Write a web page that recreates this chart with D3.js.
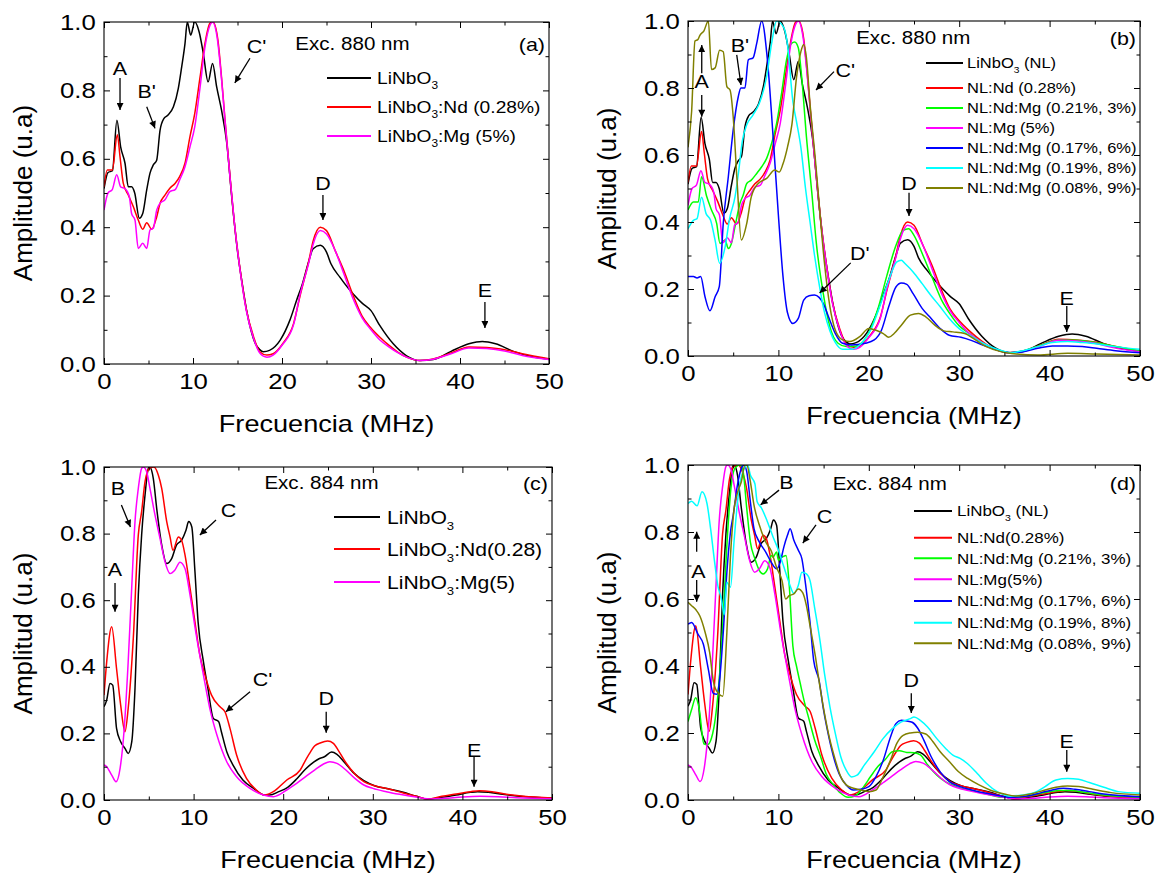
<!DOCTYPE html>
<html><head><meta charset="utf-8">
<script src="https://cdnjs.cloudflare.com/ajax/libs/d3/7.8.5/d3.min.js"></script>
<style>
body{margin:0;background:#fff}
svg{display:block}
text{font-family:"Liberation Sans",Arial,Helvetica,sans-serif;fill:#000}
</style>
</head><body><svg id="chart" width="1158" height="879"></svg>
<script>
// ---------------- tick labels ----------------
const xTicks = [0, 10, 20, 30, 40, 50];
const xMinor = [5, 15, 25, 35, 45];
const yTicks = [0, 0.2, 0.4, 0.6, 0.8, 1.0];
const yMinor = [0.1, 0.3, 0.5, 0.7, 0.9];

// ---------------- series: [frequency MHz, amplitude] ----------------
// Exc. 880 nm
const a_LN = [[0,0.513],[0.45,0.56],[0.95,0.565],[1.45,0.713],[1.87,0.635],[2.36,0.587],[2.73,0.518],[3.1,0.518],[3.45,0.5],[3.97,0.426],[4.35,0.44],[4.8,0.509],[5.17,0.558],[5.54,0.582],[5.92,0.596],[6.3,0.684],[6.74,0.718],[7.2,0.728],[7.8,0.752],[8.35,0.806],[8.73,0.869],[9.1,0.937],[9.36,1.0],[9.74,0.962],[10.2,1.0],[10.7,0.97],[11.16,0.908],[11.7,0.825],[12.2,0.879],[12.66,0.81],[13.2,0.743],[13.8,0.645],[14.35,0.489],[15.0,0.33],[15.5,0.24],[16.0,0.16],[16.5,0.1],[17.0,0.06],[17.5,0.042],[17.9,0.036],[18.6,0.04],[19.8,0.07],[20.9,0.129],[21.65,0.187],[22.3,0.235],[23.0,0.3],[23.5,0.337],[24.3,0.347],[25.0,0.327],[25.5,0.293],[26.5,0.254],[27.5,0.22],[28.0,0.205],[29.0,0.178],[30.0,0.156],[31.0,0.112],[32.5,0.059],[34.0,0.024],[35.5,0.01],[37.0,0.013],[39.0,0.037],[41.0,0.059],[42.5,0.066],[44.0,0.059],[46.0,0.037],[48.0,0.022],[50.0,0.014]];
const a_Nd = [[0,0.518],[0.37,0.567],[0.93,0.567],[1.5,0.67],[1.8,0.606],[2.17,0.528],[2.73,0.494],[3.3,0.46],[3.85,0.421],[4.35,0.394],[4.8,0.413],[5.36,0.394],[5.92,0.43],[6.3,0.47],[6.85,0.494],[7.4,0.514],[7.98,0.528],[8.5,0.548],[9.1,0.587],[9.66,0.665],[10.2,0.733],[10.8,0.84],[11.35,0.938],[11.9,0.996],[12.25,1.0],[12.8,0.947],[13.2,0.84],[13.6,0.713],[14.16,0.548],[14.7,0.401],[15.3,0.275],[16.0,0.158],[16.8,0.08],[17.5,0.036],[18.3,0.026],[19.0,0.03],[20.1,0.06],[21.3,0.118],[22.0,0.196],[23.0,0.3],[23.5,0.36],[24.3,0.4],[25.0,0.39],[26.0,0.33],[27.0,0.27],[28.0,0.2],[29.0,0.14],[30.0,0.105],[31.0,0.078],[32.0,0.055],[33.0,0.035],[34.0,0.02],[35.5,0.01],[37.0,0.015],[39.0,0.032],[41.0,0.05],[43.0,0.048],[45.0,0.042],[47.0,0.03],[50.0,0.015]];
const a_Mg = [[0,0.45],[0.45,0.5],[0.93,0.51],[1.43,0.553],[1.87,0.518],[2.36,0.513],[2.85,0.489],[3.1,0.44],[3.48,0.421],[3.85,0.338],[4.35,0.353],[4.8,0.338],[5.17,0.392],[5.54,0.397],[5.92,0.45],[6.3,0.47],[6.85,0.48],[7.4,0.504],[8.0,0.51],[8.5,0.538],[9.1,0.577],[9.66,0.635],[10.2,0.694],[10.8,0.81],[11.35,0.928],[11.9,0.99],[12.2,1.0],[12.7,0.957],[13.2,0.835],[13.6,0.71],[14.16,0.545],[14.7,0.4],[15.3,0.272],[16.0,0.155],[16.8,0.075],[17.5,0.032],[18.3,0.02],[19.0,0.026],[20.0,0.055],[21.3,0.115],[22.0,0.2],[23.0,0.295],[23.5,0.35],[24.3,0.39],[25.0,0.38],[26.0,0.33],[27.0,0.26],[28.0,0.19],[29.0,0.135],[30.0,0.1],[31.0,0.07],[32.0,0.05],[33.0,0.033],[34.0,0.02],[35.5,0.01],[37.0,0.014],[39.0,0.03],[41.0,0.047],[43.0,0.045],[45.0,0.038],[47.0,0.025],[50.0,0.013]];
const b_NdMg3 = [[0,0.436],[0.59,0.46],[1.14,0.46],[1.5,0.535],[2.07,0.476],[2.6,0.436],[3.17,0.396],[3.54,0.336],[4.1,0.346],[4.46,0.321],[4.8,0.336],[5.2,0.386],[5.75,0.456],[6.1,0.48],[6.5,0.515],[7.0,0.525],[7.6,0.545],[8.15,0.565],[8.7,0.59],[9.25,0.635],[9.8,0.694],[10.35,0.784],[10.9,0.884],[11.45,0.933],[11.8,0.937],[12.2,0.92],[12.57,0.834],[13.1,0.655],[13.7,0.486],[14.2,0.336],[14.96,0.187],[15.7,0.087],[16.6,0.038],[17.5,0.028],[18.1,0.028],[19.0,0.035],[20.0,0.07],[21.0,0.14],[22.0,0.24],[23.0,0.33],[23.8,0.375],[24.4,0.38],[25.0,0.36],[26.0,0.3],[27.0,0.235],[28.0,0.17],[29.0,0.125],[30.0,0.09],[31.0,0.07],[32.0,0.05],[33.0,0.033],[34.0,0.02],[35.5,0.01],[37.0,0.015],[39.0,0.032],[41.0,0.048],[43.0,0.047],[45.0,0.04],[47.0,0.03],[50.0,0.015]];
const b_NdMg6 = [[0,0.237],[0.6,0.237],[1.0,0.233],[1.4,0.237],[1.88,0.177],[2.43,0.135],[3.0,0.177],[3.46,0.207],[3.9,0.396],[4.46,0.535],[5.0,0.675],[5.56,0.774],[5.85,0.8],[6.3,0.8],[6.67,0.884],[7.2,0.89],[7.6,0.933],[8.15,1.0],[8.8,0.88],[9.4,0.66],[10.0,0.42],[10.5,0.24],[11.0,0.13],[11.6,0.097],[12.2,0.112],[12.8,0.167],[13.4,0.18],[14.0,0.182],[14.5,0.175],[15.0,0.155],[15.5,0.12],[16.3,0.067],[17.1,0.038],[18.1,0.033],[19.6,0.038],[20.6,0.048],[21.4,0.077],[22.2,0.147],[23.0,0.206],[23.6,0.218],[24.2,0.214],[24.9,0.186],[25.9,0.142],[26.9,0.112],[27.9,0.082],[28.9,0.062],[30.2,0.056],[31.4,0.046],[32.6,0.033],[34.2,0.018],[35.7,0.01],[37.1,0.013],[38.7,0.023],[40.3,0.03],[42.0,0.03],[43.6,0.028],[45.2,0.023],[47.3,0.016],[50.0,0.01]];
const b_NdMg8 = [[0,0.38],[0.6,0.405],[1.0,0.41],[1.5,0.474],[2.0,0.425],[2.5,0.405],[3.0,0.345],[3.5,0.277],[4.1,0.325],[4.6,0.41],[5.2,0.475],[5.6,0.55],[6.0,0.64],[6.5,0.69],[7.2,0.72],[7.9,0.755],[8.7,0.834],[9.25,0.933],[9.8,1.0],[10.6,0.98],[11.0,0.93],[11.6,0.76],[12.0,0.7],[12.5,0.62],[13.0,0.5],[13.5,0.4],[14.0,0.3],[14.6,0.2],[15.1,0.13],[15.7,0.075],[16.3,0.04],[17.1,0.02],[18.1,0.02],[19.2,0.038],[20.2,0.077],[21.2,0.147],[22.2,0.226],[23.1,0.281],[23.6,0.286],[24.0,0.276],[24.9,0.251],[25.9,0.216],[26.9,0.18],[27.9,0.147],[28.9,0.112],[30.2,0.077],[31.4,0.058],[32.6,0.038],[34.2,0.02],[35.7,0.01],[37.1,0.016],[38.7,0.028],[40.3,0.04],[42.0,0.043],[43.6,0.04],[45.2,0.036],[47.3,0.028],[50.0,0.02]];
const b_NdMg9 = [[0,0.623],[0.4,0.73],[0.77,0.94],[1.1,0.945],[1.33,0.958],[1.75,0.97],[2.25,1.0],[2.6,0.855],[3.0,0.86],[3.5,0.913],[3.9,0.908],[4.3,0.804],[4.65,0.794],[5.0,0.714],[5.4,0.535],[5.9,0.346],[6.5,0.396],[7.0,0.475],[7.8,0.516],[8.7,0.53],[9.6,0.555],[10.1,0.549],[10.5,0.573],[11.0,0.623],[11.5,0.692],[12.0,0.831],[12.5,0.91],[12.8,0.93],[13.1,0.89],[13.5,0.752],[14.1,0.583],[14.6,0.425],[15.1,0.276],[15.7,0.147],[16.3,0.077],[17.1,0.048],[17.9,0.043],[19.0,0.058],[20.0,0.082],[20.8,0.077],[21.6,0.067],[22.2,0.056],[22.8,0.067],[23.6,0.092],[24.6,0.122],[25.5,0.127],[26.3,0.117],[27.3,0.092],[28.3,0.075],[29.3,0.072],[30.6,0.067],[31.8,0.048],[33.0,0.028],[34.6,0.013],[36.3,0.006],[38.7,0.003],[42.0,0.008],[45.2,0.006],[50.0,0.003]];

// Exc. 884 nm
const c_LN = [[0,0.28],[0.3,0.3],[0.67,0.35],[0.97,0.345],[1.4,0.215],[1.86,0.175],[2.34,0.155],[2.7,0.14],[3.1,0.175],[3.46,0.335],[3.83,0.616],[4.2,0.796],[4.58,0.916],[4.95,0.996],[5.1,1.0],[5.5,0.966],[5.88,0.876],[6.44,0.766],[7.0,0.71],[7.55,0.725],[8.1,0.766],[8.66,0.78],[9.15,0.81],[9.45,0.836],[9.8,0.82],[10.15,0.686],[10.5,0.535],[11.1,0.415],[11.6,0.335],[12.2,0.245],[12.8,0.235],[13.1,0.205],[13.7,0.145],[14.4,0.105],[15.5,0.06],[16.7,0.035],[17.9,0.015],[18.5,0.015],[19.5,0.025],[20.5,0.038],[21.5,0.063],[22.5,0.093],[23.4,0.114],[24.0,0.124],[24.6,0.13],[25.4,0.144],[26.0,0.137],[26.8,0.114],[27.8,0.083],[29.0,0.058],[30.2,0.043],[31.8,0.033],[33.4,0.023],[34.9,0.011],[36.1,0.003],[37.7,0.008],[39.3,0.015],[40.9,0.023],[41.7,0.025],[42.9,0.023],[44.5,0.017],[46.4,0.011],[50.0,0.005]];
const c_Nd = [[0,0.315],[0.3,0.415],[0.86,0.52],[1.4,0.395],[1.86,0.285],[2.34,0.205],[2.7,0.275],[3.27,0.486],[3.83,0.796],[4.2,0.866],[4.58,0.956],[5.1,0.997],[5.58,1.0],[6.06,0.976],[6.44,0.936],[7.0,0.836],[7.37,0.79],[7.7,0.75],[8.3,0.79],[8.66,0.78],[9.04,0.736],[9.6,0.637],[10.15,0.535],[10.7,0.435],[11.27,0.375],[12.0,0.315],[12.95,0.28],[13.5,0.265],[14.06,0.215],[14.8,0.135],[15.9,0.065],[17.0,0.03],[17.9,0.015],[18.9,0.025],[20.4,0.06],[21.9,0.09],[22.5,0.12],[23.1,0.147],[23.5,0.162],[24.2,0.172],[24.96,0.177],[25.6,0.17],[26.2,0.147],[27.0,0.112],[28.0,0.078],[29.0,0.055],[30.2,0.043],[31.8,0.033],[33.4,0.021],[34.9,0.011],[36.1,0.003],[37.7,0.011],[39.3,0.018],[40.9,0.025],[41.9,0.028],[43.3,0.025],[44.9,0.017],[46.8,0.011],[50.0,0.006]];
const c_Mg = [[0,0.105],[0.3,0.1],[0.86,0.075],[1.34,0.055],[1.8,0.096],[2.23,0.205],[2.7,0.415],[3.09,0.636],[3.46,0.836],[3.83,0.936],[4.2,0.996],[4.39,1.0],[4.76,0.986],[5.13,0.936],[5.69,0.856],[6.25,0.786],[6.8,0.716],[7.37,0.68],[7.9,0.69],[8.48,0.714],[9.04,0.695],[9.6,0.616],[10.3,0.495],[11.1,0.375],[11.8,0.276],[12.6,0.195],[13.7,0.115],[14.8,0.07],[16.3,0.035],[17.8,0.015],[18.9,0.01],[20.4,0.03],[21.5,0.05],[22.5,0.07],[23.5,0.09],[24.5,0.108],[25.2,0.115],[26.0,0.11],[27.0,0.09],[28.0,0.065],[29.0,0.045],[30.0,0.035],[31.5,0.025],[33.0,0.017],[35.0,0.008],[36.5,0.003],[38.0,0.005],[40.0,0.009],[42.0,0.011],[44.0,0.01],[46.0,0.007],[50.0,0.004]];
const d_NdMg3 = [[0,0.234],[0.4,0.27],[0.85,0.305],[1.25,0.27],[1.75,0.168],[2.15,0.165],[2.6,0.185],[3.1,0.26],[3.5,0.377],[3.9,0.55],[4.3,0.76],[4.75,0.93],[5.1,0.985],[5.5,0.998],[5.8,1.0],[6.1,0.98],[6.5,0.87],[6.9,0.77],[7.4,0.72],[7.9,0.685],[8.3,0.675],[8.8,0.69],[9.2,0.73],[9.4,0.725],[9.8,0.74],[10.0,0.716],[10.4,0.725],[10.85,0.73],[11.2,0.64],[11.6,0.46],[12.0,0.4],[12.4,0.35],[12.9,0.29],[13.4,0.24],[14.0,0.18],[14.7,0.127],[15.3,0.077],[16.1,0.045],[16.9,0.02],[17.7,0.008],[18.5,0.012],[19.3,0.035],[20.2,0.07],[21.0,0.1],[21.8,0.12],[22.6,0.144],[23.4,0.147],[24.2,0.142],[25.0,0.141],[25.7,0.135],[26.5,0.105],[27.5,0.075],[28.5,0.054],[29.7,0.04],[31.4,0.028],[33.0,0.018],[35.0,0.008],[37.0,0.01],[39.1,0.02],[41.1,0.028],[42.3,0.028],[44.0,0.022],[46.0,0.015],[50.0,0.008]];
const d_NdMg6 = [[0,0.525],[0.4,0.53],[1.1,0.495],[1.7,0.465],[2.25,0.39],[2.8,0.318],[3.2,0.316],[3.5,0.36],[3.9,0.5],[4.3,0.68],[4.7,0.8],[5.0,0.85],[5.5,0.945],[5.9,0.99],[6.2,1.0],[6.5,0.98],[6.9,0.89],[7.3,0.81],[7.9,0.77],[8.6,0.74],[9.2,0.71],[9.8,0.69],[10.2,0.71],[10.6,0.755],[11.0,0.79],[11.3,0.81],[11.7,0.776],[12.2,0.746],[12.6,0.72],[13.0,0.645],[13.5,0.53],[13.9,0.417],[14.5,0.357],[15.0,0.268],[15.5,0.198],[16.1,0.129],[16.7,0.079],[17.5,0.045],[18.3,0.03],[19.1,0.032],[20.0,0.04],[20.8,0.07],[21.6,0.119],[22.4,0.188],[23.0,0.228],[23.6,0.238],[24.2,0.236],[24.8,0.232],[25.4,0.215],[26.1,0.178],[26.9,0.129],[27.9,0.084],[28.9,0.055],[30.1,0.04],[31.4,0.03],[33.0,0.02],[34.6,0.012],[35.8,0.008],[37.5,0.012],[39.1,0.022],[40.3,0.03],[41.5,0.035],[42.8,0.032],[44.4,0.025],[46.0,0.018],[50.0,0.01]];
const d_NdMg8 = [[0,0.885],[0.4,0.892],[1.0,0.878],[1.55,0.92],[2.1,0.885],[2.5,0.81],[2.9,0.72],[3.3,0.64],[3.7,0.6],[4.0,0.553],[4.3,0.65],[4.7,0.635],[5.1,0.774],[5.6,0.92],[6.1,0.982],[6.6,1.0],[6.9,0.97],[7.4,0.944],[7.65,0.89],[8.1,0.873],[8.75,0.833],[9.4,0.786],[10.0,0.746],[10.6,0.696],[11.2,0.647],[11.7,0.617],[12.2,0.64],[12.6,0.68],[13.1,0.675],[13.5,0.655],[14.0,0.575],[14.6,0.476],[15.1,0.377],[15.7,0.278],[16.3,0.198],[16.9,0.129],[17.5,0.089],[18.1,0.069],[18.7,0.074],[19.5,0.104],[20.6,0.144],[21.6,0.184],[22.6,0.213],[23.6,0.233],[24.6,0.243],[25.0,0.248],[25.7,0.238],[26.5,0.218],[27.5,0.184],[28.5,0.154],[29.3,0.134],[30.1,0.124],[30.9,0.109],[32.0,0.079],[33.0,0.05],[34.2,0.025],[35.6,0.012],[37.0,0.015],[38.3,0.022],[39.5,0.04],[40.7,0.06],[42.0,0.064],[43.2,0.062],[44.4,0.052],[46.0,0.038],[47.6,0.025],[50.0,0.02]];
const d_NdMg9 = [[0,0.59],[0.4,0.58],[0.9,0.567],[1.3,0.55],[1.9,0.5],[2.4,0.44],[2.8,0.355],[3.3,0.32],[3.85,0.31],[4.3,0.5],[4.7,0.73],[5.1,0.87],[5.5,0.92],[5.9,0.95],[6.3,1.0],[6.5,1.0],[6.9,0.95],[7.3,0.88],[7.9,0.82],[8.6,0.77],[9.2,0.744],[9.8,0.694],[10.4,0.655],[10.8,0.6],[11.2,0.61],[11.7,0.615],[12.2,0.63],[12.7,0.618],[13.1,0.58],[13.5,0.52],[14.1,0.427],[14.6,0.337],[15.1,0.258],[15.7,0.179],[16.3,0.119],[16.9,0.069],[17.5,0.045],[18.3,0.035],[19.1,0.03],[20.0,0.025],[20.8,0.03],[21.6,0.07],[22.4,0.119],[23.1,0.169],[23.8,0.193],[24.6,0.2],[25.4,0.202],[26.3,0.197],[27.1,0.174],[27.9,0.144],[28.9,0.115],[29.9,0.085],[30.9,0.065],[32.2,0.045],[33.4,0.03],[35.0,0.018],[36.2,0.012],[37.9,0.018],[39.5,0.03],[40.7,0.038],[42.0,0.042],[43.2,0.04],[44.8,0.032],[46.8,0.022],[50.0,0.015]];

// ---------------- legend names ----------------
const namesA = ["LiNbO3", "LiNbO3:Nd (0.28%)", "LiNbO3:Mg (5%)"];
const namesB = ["LiNbO3 (NL)", "NL:Nd (0.28%)", "NL:Nd:Mg (0.21%, 3%)", "NL:Mg (5%)", "NL:Nd:Mg (0.17%, 6%)", "NL:Nd:Mg (0.19%, 8%)", "NL:Nd:Mg (0.08%, 9%)"];
const namesC = ["LiNbO3", "LiNbO3:Nd(0.28)", "LiNbO3:Mg(5)"];
const namesD = ["LiNbO3 (NL)", "NL:Nd(0.28%)", "NL:Nd:Mg (0.21%, 3%)", "NL:Mg(5%)", "NL:Nd:Mg (0.17%, 6%)", "NL:Nd:Mg (0.19%, 8%)", "NL:Nd:Mg (0.08%, 9%)"];
const colors3 = ["#000000", "#ff0000", "#ff00ff"];
const colors7 = ["#000000", "#ff0000", "#00ff00", "#ff00ff", "#0000ff", "#00ffff", "#808000"];

// annotations: [label, x, y] and arrows [x1,y1,x2,y2] in data units
const notesA = [["A",1.8,0.865],["B'",4.8,0.796],["C'",17.15,0.928],["D",24.6,0.529],["E",42.8,0.216]];
const arrowsA = [[1.8,0.836,1.8,0.743],[4.8,0.752,5.73,0.689],[16.4,0.894,14.7,0.822],[24.6,0.494,24.6,0.421],[42.8,0.181,42.8,0.105]];
const notesB = [["A",1.52,0.819],["B'",5.75,0.928],["C'",17.4,0.854],["D'",19.0,0.307],["D",24.45,0.516],["E",41.9,0.173]];
const arrowsB = [[1.52,0.844,1.52,0.928],[1.52,0.779,1.52,0.714],[5.39,0.899,5.86,0.809],[16.15,0.849,14.16,0.794],[18.0,0.278,14.56,0.188],[24.45,0.487,24.45,0.418],[41.9,0.149,41.9,0.072]];
const notesC = [["A",1.23,0.694],["B",1.56,0.937],["C",13.9,0.871],["C'",17.7,0.363],["D",24.8,0.306],["E",41.3,0.15]];
const arrowsC = [[1.23,0.652,1.23,0.565],[1.94,0.886,2.95,0.82],[12.5,0.841,10.7,0.796],[16.3,0.325,13.6,0.265],[24.8,0.265,24.8,0.202],[41.3,0.13,41.3,0.04]];
const notesD = [["A",1.16,0.682],["B",10.9,0.947],["C",15.1,0.848],["D",24.7,0.358],["E",41.9,0.174]];
const arrowsD = [[0.96,0.741,0.96,0.801],[0.96,0.657,0.96,0.592],[10.07,0.925,8.03,0.881],[14.16,0.821,12.7,0.767],[24.7,0.319,24.7,0.26],[41.9,0.149,41.9,0.084]];

// ---------------- layout ----------------
const panels = [
  {box:[104,22,549,364], ytitle:"Amplitude (u.a)", exc:"Exc. 880 nm", excX:21.5, excY:0.936, tag:"(a)", tagY:0.936,
   series:[a_LN,a_Nd,a_Mg], colors:colors3, names:namesA, notes:notesA, arrows:arrowsA,
   leg:{x0:223,x1:267,tx:273,rows:[56,85,114],size:17}},
  {box:[688,21,1140,356], ytitle:"Amplitud (u.a)", exc:"Exc. 880 nm", excX:18.6, excY:0.949, tag:"(b)", tagY:0.949,
   series:[a_LN,a_Nd,b_NdMg3,a_Mg,b_NdMg6,b_NdMg8,b_NdMg9], colors:colors7, names:namesB, notes:notesB, arrows:arrowsB,
   leg:{x0:238,x1:275,tx:279,rows:[42,67,87,107,127,147,167],size:14.6}},
  {box:[104,467,552,800], ytitle:"Amplitud (u.a)", exc:"Exc. 884 nm", excX:17.9, excY:0.952, tag:"(c)", tagY:0.952,
   series:[c_LN,c_Nd,c_Mg], colors:colors3, names:namesC, notes:notesC, arrows:arrowsC,
   leg:{x0:230,x1:276,tx:283,rows:[50,82,115],size:18.7}},
  {box:[688,465,1140,800], ytitle:"Amplitud (u.a)", exc:"Exc. 884 nm", excX:16.0, excY:0.943, tag:"(d)", tagY:0.946,
   series:[c_LN,c_Nd,d_NdMg3,c_Mg,d_NdMg6,d_NdMg8,d_NdMg9], colors:colors7, names:namesD, notes:notesD, arrows:arrowsD,
   leg:{x0:226,x1:264,tx:269,rows:[46,72.7,93.3,114.3,136,157.7,178.3],size:15}}
];

const SX = 1.13; // horizontal stretch of the original lettering
const svg = d3.select("#chart");
svg.append("rect").attr("width",1158).attr("height",879).attr("fill","#fff");
svg.append("defs").append("marker").attr("id","ah").attr("viewBox","0 0 10 10")
  .attr("refX",10).attr("refY",5).attr("markerWidth",9).attr("markerHeight",7)
  .attr("markerUnits","userSpaceOnUse").attr("orient","auto")
  .append("path").attr("d","M0,0 L10,5 L0,10 z").attr("fill","#000");

function put(g, x, y, str, size, anchor, sx) {
  const t = g.append("text")
    .attr("transform", `translate(${x},${y}) scale(${sx || SX},1)`)
    .attr("font-size", size).attr("text-anchor", anchor || "start").attr("dy", "0.35em");
  const parts = str.split("LiNbO3");
  parts.forEach((p, i) => {
    if (i > 0) {
      t.append("tspan").text("LiNbO");
      t.append("tspan").attr("font-size", size * 0.62).attr("dy", size * 0.32).text("3");
      if (p !== "") t.append("tspan").attr("dy", -size * 0.32).text(p);
    } else if (p !== "") {
      t.append("tspan").text(p);
    }
  });
  return t;
}

panels.forEach((P, pi) => {
  const [L, T, R, B] = P.box;
  const w = R - L, h = B - T;
  const g = svg.append("g").attr("transform", `translate(${L},${T})`);
  const x = d3.scaleLinear().domain([0, 50]).range([0, w]);
  const y = d3.scaleLinear().domain([0, 1]).range([h, 0]);

  const clipId = "clip" + pi;
  g.append("clipPath").attr("id", clipId).append("rect").attr("width", w).attr("height", h);

  // curves
  const line = d3.line().x(d => x(d[0])).y(d => y(d[1])).curve(d3.curveMonotoneX);
  const cg = g.append("g").attr("clip-path", `url(#${clipId})`);
  P.series.forEach((s, i) => {
    cg.append("path").datum(s).attr("d", line).attr("fill", "none")
      .attr("stroke", P.colors[i]).attr("stroke-width", 1.5).attr("stroke-linejoin", "round");
  });

  // axes (ticks inward, all four sides)
  const strip = sel => sel.select(".domain").remove();
  const bottom = g.append("g").attr("transform", `translate(0,${h})`)
    .call(d3.axisBottom(x).tickValues(xTicks).tickSize(-6).tickPadding(9).tickFormat(d3.format("d"))).call(strip);
  g.append("g").attr("transform", `translate(0,${h})`)
    .call(d3.axisBottom(x).tickValues(xMinor).tickSize(-3.5).tickFormat("")).call(strip);
  g.append("g").call(d3.axisTop(x).tickValues(xTicks).tickSize(-6).tickFormat("")).call(strip);
  g.append("g").call(d3.axisTop(x).tickValues(xMinor).tickSize(-3.5).tickFormat("")).call(strip);
  const left = g.append("g")
    .call(d3.axisLeft(y).tickValues(yTicks).tickSize(-6).tickPadding(7).tickFormat(d3.format(".1f"))).call(strip);
  g.append("g").call(d3.axisLeft(y).tickValues(yMinor).tickSize(-3.5).tickFormat("")).call(strip);
  g.append("g").attr("transform", `translate(${w},0)`)
    .call(d3.axisRight(y).tickValues(yTicks).tickSize(-6).tickFormat("")).call(strip);
  g.append("g").attr("transform", `translate(${w},0)`)
    .call(d3.axisRight(y).tickValues(yMinor).tickSize(-3.5).tickFormat("")).call(strip);
  [bottom, left].forEach(a => a.selectAll("text")
    .attr("font-size", 22).attr("font-family", '"Liberation Sans",Arial,sans-serif').attr("fill", "#000")
    .attr("transform", "scale(1.17,1)"));
  left.selectAll("text").attr("x", -7 / 1.17 - 1);
  g.selectAll(".tick line").attr("stroke", "#000").attr("stroke-width", 1);

  g.append("rect").attr("width", w).attr("height", h).attr("fill", "none")
    .attr("stroke", "#000").attr("stroke-width", 1.1);

  // axis titles
  put(g, w / 2, h + 60, "Frecuencia (MHz)", 24, "middle");
  g.append("text").attr("transform", `translate(${-72},${h / 2}) rotate(-90)`)
    .attr("text-anchor", "middle").attr("font-size", 26).text(P.ytitle);

  // header texts
  put(g, x(P.excX), y(P.excY), P.exc, 18.2, "start");
  put(g, w - 4, y(P.tagY), P.tag, 19, "end");

  // legend
  const Lg = P.leg;
  P.names.forEach((n, i) => {
    g.append("line").attr("x1", Lg.x0).attr("x2", Lg.x1).attr("y1", Lg.rows[i]).attr("y2", Lg.rows[i])
      .attr("stroke", P.colors[i]).attr("stroke-width", 2);
    put(g, Lg.tx, Lg.rows[i], n, Lg.size, "start");
  });

  // annotations
  P.notes.forEach(n => put(g, x(n[1]), y(n[2]), n[0], 19, "middle"));
  P.arrows.forEach(a => {
    g.append("line").attr("x1", x(a[0])).attr("y1", y(a[1])).attr("x2", x(a[2])).attr("y2", y(a[3]))
      .attr("stroke", "#000").attr("stroke-width", 1.3).attr("marker-end", "url(#ah)");
  });
});
</script>
</body></html>
